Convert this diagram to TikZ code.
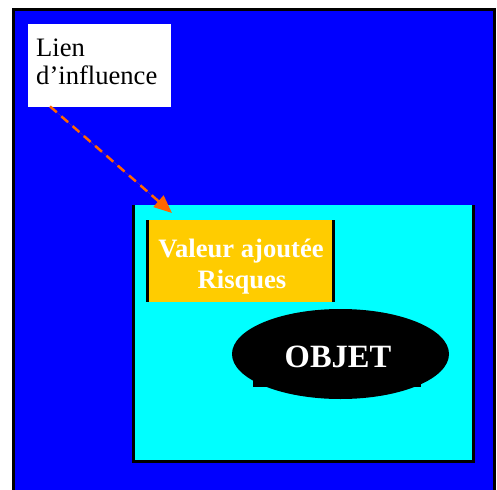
\documentclass[tikz,border=0pt]{standalone}
\usepackage{fontspec}
\setmainfont{Liberation Serif}
\usetikzlibrary{arrows.meta,shapes.geometric,calc}
\definecolor{arrowor}{RGB}{255,102,0}
\definecolor{goldbox}{RGB}{255,204,0}
\definecolor{cyanfill}{RGB}{0,255,255}
\definecolor{bluefill}{RGB}{0,0,255}
\tikzset{
  edge/.style={line width=3pt, line cap=butt},
  labeltext/.style={anchor=base west, inner sep=0pt, font=\fontsize{26.6}{28}\selectfont},
  boldwhite/.style={anchor=base, inner sep=0pt, text=white, font=\fontsize{26.6}{28}\selectfont\bfseries},
  infl/.style={draw=arrowor, fill=arrowor, line width=2.5pt, dash pattern=on 9pt off 6pt, -{Triangle[length=18pt,width=15pt]}}
}
\begin{document}
\begin{tikzpicture}[x=1pt,y=-1pt]
\useasboundingbox (0,0) rectangle (497,489);
\clip (0,0) rectangle (497,489);
% outer blue field
\node[fill=bluefill, anchor=north west, inner sep=0pt, minimum width=481pt, minimum height=490pt] (field) at (13.5,9.5) {};
\draw[edge] (field.south west) -- (field.north west) -- (field.north east) -- (field.south east);
% label box
\node[fill=white, anchor=north west, inner sep=0pt, minimum width=143pt, minimum height=83pt] (label) at (28,24) {};
\node[labeltext] (l1) at (36,57) {Lien};
\node[labeltext] (l2) at (36,85) {d’influence};
% cyan frame
\node[fill=cyanfill, anchor=north west, inner sep=0pt, minimum width=340pt, minimum height=256pt] (frame) at (133.5,205) {};
\draw[edge] (frame.north west) -- (frame.south west) -- (frame.south east) -- (frame.north east);
% orange box
\node[fill=goldbox, anchor=north west, inner sep=0pt, minimum width=186pt, minimum height=82pt] (va) at (147.5,220) {};
\draw[edge] (va.north west) -- (va.south west);
\draw[edge] (va.north east) -- (va.south east);
\node[boldwhite] (t1) at (241,257) {Valeur ajoutée};
\node[boldwhite] (t2) at (242,288) {Risques};
% object ellipse
\fill[black] (253,330) rectangle (421,387);
\node[ellipse, fill=black, inner sep=0pt, minimum width=217pt, minimum height=90pt] (obj) at (340.5,354) {};
\node[anchor=base, inner sep=0pt, text=white, font=\fontsize{32.5}{34}\selectfont\bfseries] (objt) at (338,367) {OBJET};
% influence link
\coordinate (start) at ($(label.south west)+(22,-1)$);
\coordinate (tip) at (172,213);
\draw[infl] (start) -- (tip);
\end{tikzpicture}
\end{document}
